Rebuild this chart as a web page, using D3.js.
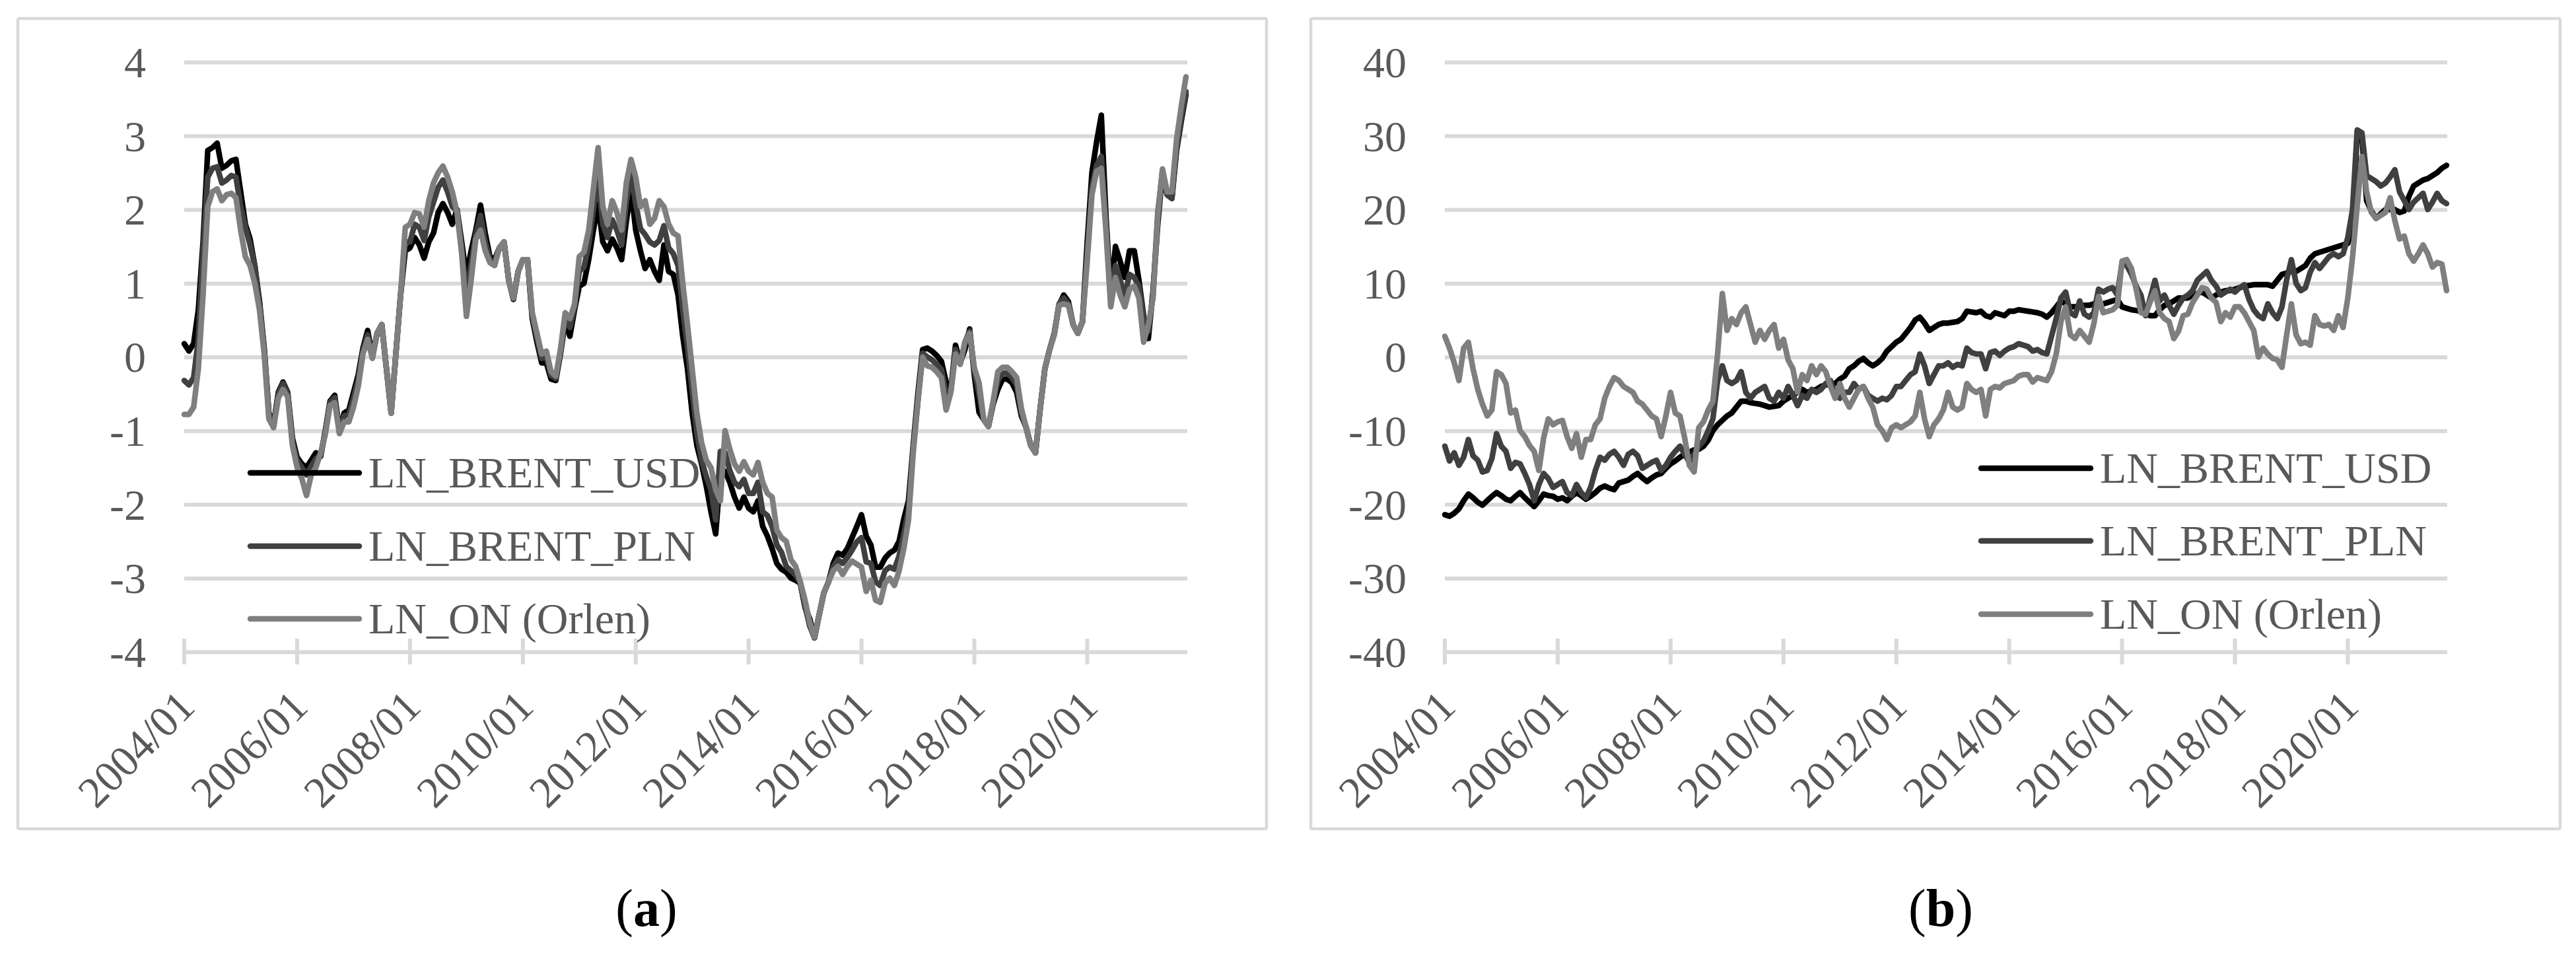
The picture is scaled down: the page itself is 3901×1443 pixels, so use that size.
<!DOCTYPE html>
<html><head><meta charset="utf-8">
<script src="https://cdn.jsdelivr.net/npm/d3@7"></script>
<style>body{margin:0;background:#fff}</style>
</head><body>
<svg id="c" width="3901" height="1443" xmlns="http://www.w3.org/2000/svg"></svg>
<script>
// ---------------- DATA ----------------
const seriesNames = ["LN_BRENT_USD", "LN_BRENT_PLN", "LN_ON (Orlen)"];
const seriesColors = ["#000000", "#404040", "#7f7f7f"];
const startYear = 2004;
const monthCount = 214; // 2004/01 .. 2021/10
const categories = d3.range(monthCount).map(i => `${startYear + Math.floor(i / 12)}/${String(i % 12 + 1).padStart(2, "0")}`);
const xTickLabels = ["2004/01", "2006/01", "2008/01", "2010/01", "2012/01", "2014/01", "2016/01", "2018/01", "2020/01"];
const yTicksA = [-4, -3, -2, -1, 0, 1, 2, 3, 4];
const yTicksB = [-40, -30, -20, -10, 0, 10, 20, 30, 40];
const panelLabels = ["a", "b"];

// panel (a)
const usdA = [
 0.18,0.08,0.18,0.64,1.56,2.80,2.84,2.90,2.56,2.60,2.66,2.68,
 2.24,1.80,1.60,1.24,0.76,0.12,-0.76,-0.92,-0.48,-0.34,-0.48,-1.10,
 -1.36,-1.45,-1.50,-1.40,-1.30,-1.35,-1.00,-0.60,-0.52,-1.00,-0.76,-0.72,
 -0.48,-0.24,0.12,0.36,0.00,0.32,0.44,-0.16,-0.76,0.04,0.84,1.44,
 1.48,1.62,1.52,1.34,1.56,1.68,1.96,2.08,1.96,1.80,2.00,1.56,
 1.10,1.44,1.72,2.06,1.68,1.36,1.32,1.48,1.56,1.04,0.78,1.16,
 1.32,1.32,0.52,0.20,-0.08,-0.08,-0.30,-0.32,0.04,0.48,0.28,0.64,
 0.96,1.00,1.32,1.72,2.08,1.56,1.44,1.60,1.48,1.32,1.84,2.28,
 1.72,1.44,1.20,1.32,1.16,1.04,1.52,1.16,1.12,0.84,0.28,-0.16,
 -0.76,-1.20,-1.45,-1.75,-2.10,-2.40,-1.60,-1.55,-1.70,-1.90,-2.05,-1.90,
 -2.05,-2.10,-1.95,-2.30,-2.43,-2.60,-2.80,-2.88,-2.92,-3.00,-3.03,-3.07,
 -3.40,-3.55,-3.81,-3.50,-3.20,-3.05,-2.80,-2.66,-2.69,-2.60,-2.45,-2.30,
 -2.14,-2.43,-2.55,-2.85,-2.85,-2.73,-2.66,-2.62,-2.50,-2.20,-1.95,-1.20,
 -0.50,0.10,0.12,0.08,0.02,-0.06,-0.34,-0.44,0.16,-0.08,0.10,0.38,
 -0.25,-0.75,-0.85,-0.94,-0.64,-0.44,-0.30,-0.30,-0.35,-0.48,-0.80,-0.95,
 -1.20,-1.30,-0.70,-0.16,0.10,0.32,0.70,0.84,0.75,0.44,0.32,0.48,
 1.56,2.50,2.92,3.28,1.90,0.84,1.50,1.30,1.08,1.44,1.44,1.04,
 0.56,0.25,0.90,1.80,2.50,2.20,2.15,2.80,3.20,3.56
];
const plnA = [
 -0.32,-0.38,-0.28,0.24,1.44,2.44,2.56,2.58,2.36,2.40,2.46,2.44,
 2.04,1.76,1.52,1.24,0.72,0.10,-0.78,-0.94,-0.50,-0.36,-0.50,-1.15,
 -1.40,-1.50,-1.60,-1.48,-1.38,-1.33,-1.02,-0.62,-0.55,-1.02,-0.80,-0.78,
 -0.56,-0.30,0.08,0.30,-0.01,0.32,0.44,-0.16,-0.76,0.04,0.84,1.56,
 1.56,1.80,1.76,1.58,1.90,2.10,2.30,2.40,2.24,2.04,1.98,1.48,
 0.85,1.25,1.66,1.92,1.56,1.32,1.28,1.48,1.56,1.04,0.79,1.16,
 1.32,1.32,0.56,0.26,-0.02,0.00,-0.25,-0.29,0.07,0.54,0.40,0.68,
 1.16,1.22,1.52,2.00,2.46,1.80,1.62,1.86,1.72,1.52,2.10,2.48,
 2.08,1.74,1.66,1.56,1.52,1.58,1.78,1.48,1.40,1.24,0.64,0.14,
 -0.46,-1.03,-1.40,-1.62,-1.80,-2.21,-1.28,-1.30,-1.54,-1.70,-1.76,-1.66,
 -1.85,-1.85,-1.70,-2.10,-2.15,-2.30,-2.55,-2.65,-2.84,-2.90,-2.95,-3.07,
 -3.38,-3.65,-3.81,-3.50,-3.20,-3.05,-2.85,-2.75,-2.80,-2.72,-2.62,-2.51,
 -2.45,-2.78,-2.80,-3.05,-3.10,-2.90,-2.85,-2.88,-2.70,-2.40,-2.08,-1.25,
 -0.60,0.05,0.00,-0.04,-0.10,-0.17,-0.50,-0.46,0.10,-0.09,0.20,0.35,
 -0.18,-0.50,-0.85,-0.94,-0.62,-0.32,-0.22,-0.22,-0.28,-0.38,-0.76,-0.96,
 -1.20,-1.30,-0.70,-0.16,0.10,0.31,0.72,0.80,0.72,0.44,0.32,0.48,
 1.40,2.30,2.60,2.72,1.80,0.75,1.24,1.04,0.84,1.12,1.08,0.96,
 0.52,0.35,0.85,1.95,2.52,2.20,2.15,2.85,3.25,3.60
];
const onA = [
 -0.78,-0.78,-0.68,-0.16,0.84,2.04,2.24,2.28,2.12,2.20,2.22,2.16,
 1.72,1.36,1.24,1.00,0.64,0.04,-0.84,-0.96,-0.56,-0.44,-0.54,-1.20,
 -1.50,-1.65,-1.88,-1.60,-1.50,-1.30,-1.05,-0.66,-0.62,-1.04,-0.88,-0.88,
 -0.68,-0.40,0.04,0.24,-0.02,0.32,0.44,-0.16,-0.76,0.04,0.84,1.76,
 1.80,1.96,1.94,1.76,2.12,2.36,2.50,2.59,2.44,2.24,1.96,1.40,
 0.55,1.04,1.60,1.72,1.44,1.28,1.24,1.48,1.56,1.04,0.80,1.16,
 1.32,1.32,0.60,0.32,0.04,0.08,-0.20,-0.26,0.10,0.60,0.52,0.72,
 1.36,1.42,1.72,2.28,2.84,2.04,1.80,2.12,1.96,1.72,2.36,2.68,
 2.44,2.04,2.12,1.80,1.88,2.12,2.04,1.80,1.68,1.64,1.00,0.44,
 -0.16,-0.76,-1.16,-1.40,-1.50,-1.80,-1.95,-1.00,-1.25,-1.45,-1.55,-1.42,
 -1.55,-1.60,-1.43,-1.70,-1.85,-1.90,-2.35,-2.45,-2.50,-2.75,-2.84,-3.05,
 -3.30,-3.60,-3.80,-3.50,-3.20,-3.05,-2.90,-2.84,-2.95,-2.84,-2.77,-2.81,
 -2.85,-3.18,-3.03,-3.30,-3.33,-3.07,-3.00,-3.10,-2.90,-2.60,-2.21,-1.30,
 -0.60,0.00,-0.12,-0.14,-0.20,-0.28,-0.72,-0.48,0.04,-0.10,0.20,0.32,
 -0.15,-0.35,-0.85,-0.94,-0.60,-0.20,-0.14,-0.14,-0.20,-0.28,-0.70,-0.95,
 -1.20,-1.30,-0.70,-0.16,0.10,0.30,0.70,0.72,0.70,0.44,0.32,0.48,
 1.30,2.20,2.52,2.56,1.70,0.68,1.08,0.84,0.68,0.92,0.96,0.80,
 0.20,0.44,0.80,1.90,2.55,2.24,2.24,2.95,3.40,3.80
];

// panel (b)
const usdB = [
 -21.4,-21.6,-21.2,-20.6,-19.5,-18.6,-19.1,-19.7,-20.1,-19.5,-18.9,-18.4,
 -18.8,-19.3,-19.5,-18.9,-18.4,-19.1,-19.7,-20.3,-19.5,-18.6,-18.8,-18.9,
 -19.3,-19.1,-19.5,-18.9,-18.4,-18.8,-19.3,-18.9,-18.4,-17.8,-17.5,-17.8,
 -18.0,-17.1,-16.9,-16.7,-16.2,-15.8,-16.4,-16.9,-16.4,-16.0,-15.8,-15.1,
 -14.5,-14.1,-13.6,-13.2,-12.9,-12.6,-12.5,-12.1,-11.3,-10.0,-9.2,-8.6,
 -8.0,-7.6,-6.8,-6.0,-6.0,-6.2,-6.3,-6.4,-6.6,-6.8,-6.7,-6.6,
 -6.0,-5.6,-5.2,-4.8,-4.4,-4.8,-4.6,-4.4,-4.0,-3.8,-3.6,-3.6,
 -3.0,-2.6,-1.6,-1.2,-0.6,-0.2,-0.8,-1.2,-0.8,-0.2,0.8,1.4,
 2.0,2.4,3.2,4.0,5.0,5.4,4.6,3.6,4.0,4.4,4.6,4.6,
 4.7,4.8,5.2,6.2,6.1,6.0,6.2,5.6,5.4,6.0,5.8,5.6,
 6.2,6.2,6.4,6.3,6.2,6.1,6.0,5.8,5.4,6.0,6.8,7.6,
 7.2,6.8,6.8,6.8,7.0,7.0,7.2,7.2,7.2,7.4,7.6,7.8,
 6.8,6.6,6.4,6.3,6.2,5.8,5.6,5.6,6.4,7.0,7.2,7.6,
 8.0,8.0,8.0,8.4,8.6,8.8,8.4,8.0,8.4,8.8,9.0,9.0,
 9.2,9.4,9.6,9.7,9.8,9.8,9.8,9.8,9.6,10.4,11.2,11.4,
 11.6,11.6,12.0,12.4,13.4,14.0,14.2,14.4,14.6,14.8,15.0,15.2,
 15.4,17.5,30.4,30.0,21.2,19.8,18.8,19.4,20.0,20.0,20.0,19.6,
 19.8,21.8,23.2,23.6,24.0,24.2,24.6,25.0,25.6,26.0
];
const plnB = [
 -12.1,-14.1,-13.0,-14.7,-13.6,-11.2,-13.4,-14.0,-15.6,-15.4,-13.8,-10.4,
 -12.1,-12.8,-15.1,-14.3,-14.5,-15.8,-17.3,-19.5,-17.3,-15.8,-16.5,-17.7,
 -17.3,-16.9,-18.4,-18.8,-17.3,-18.4,-19.1,-17.7,-15.4,-13.6,-14.0,-13.2,
 -12.8,-13.6,-14.7,-13.2,-12.8,-13.4,-15.1,-14.7,-14.3,-14.0,-15.4,-14.7,
 -13.6,-12.8,-12.1,-13.2,-14.3,-13.2,-12.1,-11.4,-10.0,-8.4,-3.2,-1.2,
 -3.2,-3.6,-3.2,-2.0,-4.8,-5.6,-4.8,-4.4,-4.0,-5.6,-6.0,-4.8,
 -5.6,-4.0,-5.2,-6.6,-5.2,-5.6,-4.4,-4.8,-4.4,-3.6,-3.2,-5.2,
 -5.6,-4.8,-4.8,-3.6,-4.4,-4.0,-5.2,-5.6,-6.0,-5.6,-5.8,-5.2,
 -4.0,-4.0,-3.2,-2.4,-2.0,0.4,-1.2,-3.6,-2.4,-1.2,-1.2,-0.8,
 -1.4,-1.0,-1.2,1.2,0.6,0.4,0.4,-1.6,0.6,0.8,0.2,0.8,
 1.2,1.4,1.8,1.6,1.4,0.8,1.0,0.6,0.4,2.8,5.2,8.0,
 8.8,6.0,5.6,7.6,5.8,5.4,6.0,9.2,8.8,9.2,9.4,8.4,
 12.8,12.4,11.2,9.6,8.4,5.6,8.0,10.4,7.6,8.4,7.0,5.8,
 7.0,8.0,8.4,9.0,10.4,11.0,11.6,10.4,9.6,8.4,8.8,9.2,
 8.8,9.4,9.8,7.8,6.4,5.6,5.2,7.2,6.0,5.2,6.8,10.5,
 13.2,10.0,9.0,9.4,11.5,12.8,12.0,12.8,13.6,14.0,13.6,14.0,
 16.2,20.0,30.8,30.4,24.6,24.2,23.8,23.2,23.6,24.4,25.4,22.4,
 21.2,20.0,21.0,21.6,22.2,20.0,21.0,22.2,21.2,20.8
];
const onB = [
 2.8,1.2,-0.8,-3.2,1.2,2.0,-1.6,-4.4,-6.4,-8.0,-7.2,-2.0,
 -2.4,-3.6,-7.6,-7.2,-10.0,-10.8,-12.0,-12.8,-15.4,-11.0,-8.4,-9.2,
 -8.8,-8.6,-10.8,-12.4,-10.4,-13.6,-11.2,-11.2,-9.2,-8.4,-5.6,-4.0,
 -2.8,-3.2,-4.0,-4.4,-4.8,-6.0,-6.4,-7.2,-8.0,-8.4,-10.8,-8.0,
 -4.8,-7.6,-8.0,-11.0,-14.7,-15.6,-9.6,-8.8,-7.2,-6.0,0.4,8.6,
 3.6,5.2,4.4,6.0,6.8,4.4,2.0,3.6,2.4,3.6,4.4,1.2,
 2.4,-0.4,-1.6,-4.8,-2.4,-3.2,-1.2,-2.4,-1.2,-2.0,-4.0,-5.6,
 -3.6,-5.6,-6.8,-5.6,-4.4,-4.0,-5.6,-6.8,-9.2,-10.0,-11.2,-9.6,
 -9.2,-9.6,-9.2,-8.8,-8.0,-4.8,-8.4,-10.8,-9.2,-8.4,-7.2,-4.8,
 -6.8,-7.2,-6.8,-3.6,-4.4,-4.8,-4.4,-8.0,-4.4,-4.0,-4.2,-3.6,
 -3.4,-3.2,-2.6,-2.4,-2.4,-3.4,-2.8,-3.0,-3.2,-2.0,0.4,4.8,
 6.8,3.0,2.5,3.6,2.8,2.0,4.5,8.2,6.0,6.2,6.4,7.0,
 13.0,13.2,12.0,9.2,6.0,5.8,7.5,9.0,6.0,5.2,4.8,2.5,
 3.5,5.6,5.8,7.4,8.4,9.4,9.2,8.0,7.4,4.8,6.0,5.4,
 6.8,6.8,6.0,4.8,3.6,0.0,1.2,0.4,-0.2,-0.4,-1.4,3.0,
 7.2,3.0,1.8,2.0,1.6,5.6,4.4,4.2,4.4,3.6,5.6,4.0,
 8.0,13.5,20.5,27.2,22.4,19.6,18.8,19.2,19.6,21.6,18.5,16.0,
 16.4,14.0,13.0,14.0,15.2,14.0,12.2,12.8,12.6,9.0
];

// ---------------- DRAWING ----------------
const FONT = "'Liberation Serif', 'Times New Roman', Times, serif";
const svg = d3.select("#c").attr("font-family", FONT);
svg.append("rect").attr("width", 3901).attr("height", 1443).attr("fill", "#fff");

const panels = [
  { frame: [27, 28, 1918, 1255], left: 279, right: 1796, gridRight: 1798,
    yDomain: [-4, 4], yTicks: yTicksA, series: [usdA, plnA, onA],
    legend: { x1: 379, x2: 544, ys: [716, 827, 937], tx: 558 }, capX: 979 },
  { frame: [1985, 28, 3877, 1255], left: 2188, right: 3705, gridRight: 3706,
    yDomain: [-40, 40], yTicks: yTicksB, series: [usdB, plnB, onB],
    legend: { x1: 3000, x2: 3166, ys: [709, 819, 930], tx: 3180 }, capX: 2939 }
];
const yTop = 94, yBottom = 987;

panels.forEach((p, pi) => {
  const g = svg.append("g");
  g.append("rect")
    .attr("x", p.frame[0]).attr("y", p.frame[1])
    .attr("width", p.frame[2] - p.frame[0]).attr("height", p.frame[3] - p.frame[1])
    .attr("fill", "none").attr("stroke", "#d9d9d9").attr("stroke-width", 4.5)
    .attr("rx", 2);

  const x = d3.scalePoint().domain(categories).range([p.left, p.right]);
  const y = d3.scaleLinear().domain(p.yDomain).range([yBottom, yTop]);

  // gridlines + y labels
  const yAxis = d3.axisLeft(y).tickValues(p.yTicks)
    .tickSize(-(p.gridRight - p.left)).tickPadding(58)
    .tickFormat(d => String(d));
  g.append("g").attr("transform", `translate(${p.left},0)`).call(yAxis)
    .call(a => {
      a.select(".domain").remove();
      a.selectAll(".tick line").attr("stroke", "#d9d9d9").attr("stroke-width", 6);
      a.selectAll(".tick text").attr("font-size", 66).attr("fill", "#595959")
        .attr("font-family", FONT).attr("dy", "0.34em");
    });

  // x tick marks
  g.selectAll("line.xt").data(xTickLabels).join("line").attr("class", "xt")
    .attr("x1", d => x(d)).attr("x2", d => x(d))
    .attr("y1", yBottom - 20).attr("y2", yBottom + 19)
    .attr("stroke", "#d9d9d9").attr("stroke-width", 6);

  // x labels
  g.selectAll("text.xl").data(xTickLabels).join("text").attr("class", "xl")
    .attr("transform", d => `translate(${x(d) - 73},1134) rotate(-45)`)
    .attr("text-anchor", "middle").attr("dy", "0.34em")
    .attr("font-size", 66).attr("fill", "#595959")
    .text(d => d);

  // series lines
  const line = d3.line().x((d, i) => x(categories[i])).y(d => y(d));
  p.series.forEach((s, si) => {
    g.append("path").datum(s).attr("d", line)
      .attr("fill", "none").attr("stroke", seriesColors[si])
      .attr("stroke-width", 8.5).attr("stroke-linejoin", "round").attr("stroke-linecap", "round");
  });

  // legend
  const L = p.legend;
  seriesNames.forEach((name, si) => {
    g.append("line").attr("x1", L.x1).attr("x2", L.x2)
      .attr("y1", L.ys[si]).attr("y2", L.ys[si])
      .attr("stroke", seriesColors[si]).attr("stroke-width", 8.5).attr("stroke-linecap", "round");
    g.append("text").attr("x", L.tx).attr("y", L.ys[si] + 22)
      .attr("font-size", 66).attr("fill", "#595959").text(name);
  });

  // caption
  const cap = svg.append("text").attr("x", p.capX).attr("y", 1402)
    .attr("text-anchor", "middle").attr("font-size", 80).attr("fill", "#000");
  cap.append("tspan").text("(");
  cap.append("tspan").attr("font-weight", "bold").text(panelLabels[pi]);
  cap.append("tspan").text(")");
});
</script>
</body></html>
